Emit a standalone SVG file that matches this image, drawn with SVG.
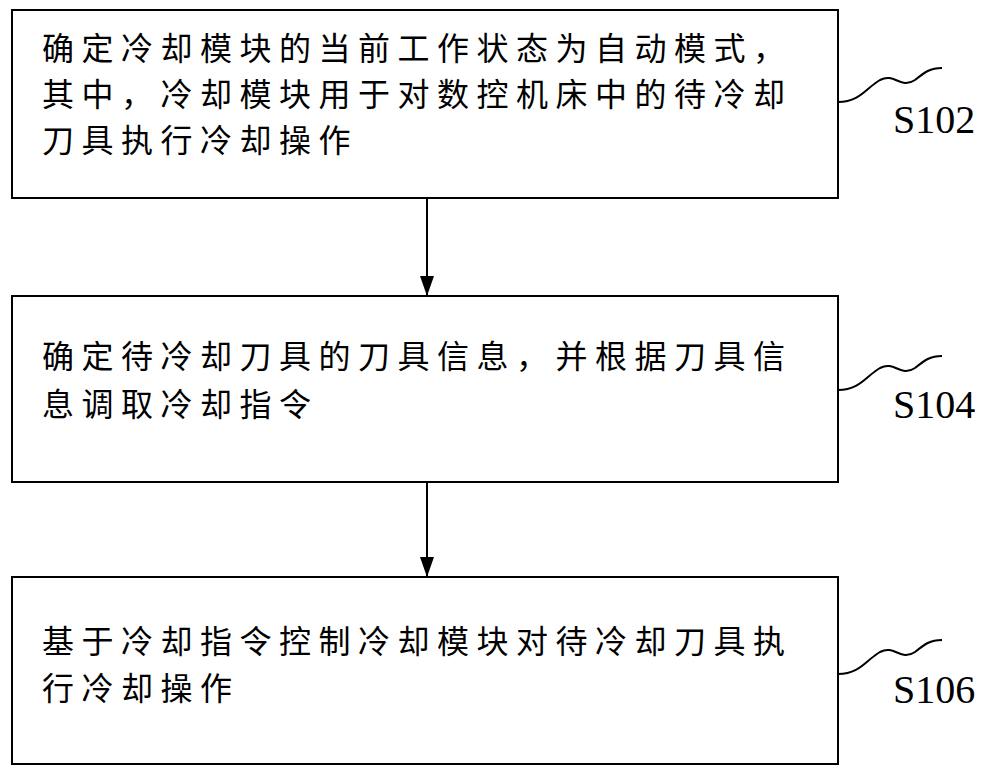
<svg xmlns="http://www.w3.org/2000/svg" width="1000" height="780" viewBox="0 0 1000 780">
<style>
.box{fill:#fff;stroke:#000;stroke-width:2}
.t{font-family:"Liberation Serif","Noto Sans CJK SC",serif;font-size:32px;letter-spacing:7.5px;fill:#000}
.s{font-family:"Liberation Serif",serif;font-size:40px;fill:#000}
.c{fill:none;stroke:#000;stroke-width:2}
</style>
<defs>
<marker id="b" markerWidth="20" markerHeight="14" refX="20" refY="7" orient="auto" markerUnits="userSpaceOnUse"><path d="M0,0 L20,7 L0,14 Z" fill="#000"/></marker></defs>
<g id="n1"><rect class="box" x="12" y="10" width="826" height="188"/>
<text class="t" x="42" y="60">确定冷却模块的当前工作状态为自动模式，</text>
<text class="t" x="42" y="106">其中，冷却模块用于对数控机床中的待冷却</text>
<text class="t" x="42" y="152">刀具执行冷却操作</text></g>
<g id="n2"><rect class="box" x="12" y="296" width="826" height="186"/>
<text class="t" x="42" y="368">确定待冷却刀具的刀具信息，并根据刀具信</text>
<text class="t" x="42" y="416">息调取冷却指令</text></g>
<g id="n3"><rect class="box" x="12" y="577" width="826" height="187"/>
<text class="t" x="42" y="653">基于冷却指令控制冷却模块对待冷却刀具执</text>
<text class="t" x="42" y="700">行冷却操作</text></g>
<g id="connectors">
<line class="c" x1="427" y1="198" x2="427" y2="296" marker-end="url(#b)"/>
<line class="c" x1="427" y1="482" x2="427" y2="577" marker-end="url(#b)"/>
<path class="c" d="M838,102 C860,102 866,88 880,80 C895,72 900,90 915,80 C925,72 930,68 942,68"/>
<path class="c" d="M838,390 C860,390 866,376 880,368 C895,360 900,378 915,368 C925,360 930,356 942,356"/>
<path class="c" d="M838,674 C860,674 866,660 880,652 C895,644 900,662 915,652 C925,644 930,640 942,640"/>
</g>
<g id="labels">
<text class="s" x="893" y="133">S102</text>
<text class="s" x="893" y="418">S104</text>
<text class="s" x="893" y="703">S106</text>
</g>
</svg>
